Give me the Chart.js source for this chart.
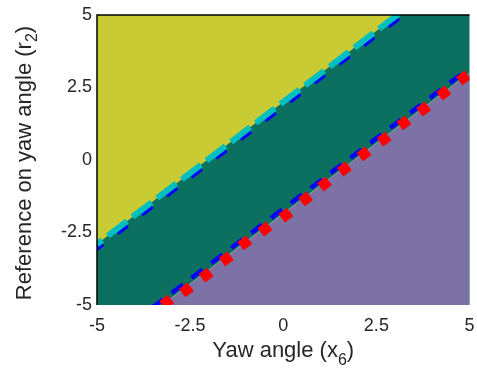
<!DOCTYPE html>
<html>
<head>
<meta charset="utf-8">
<script src="https://cdn.jsdelivr.net/npm/chart.js@4"></script>
<style>
  html, body { margin: 0; padding: 0; background: #fff; }
  #wrap { width: 477px; height: 371px; }
</style>
</head>
<body>
<div id="wrap"><canvas id="chart" width="477" height="371"></canvas></div>
<script>
// axis range and ticks
const xEnds = [-5, 5];
const tickValues = [-5, -2.5, 0, 2.5, 5];
const tickLabels = ['-5', '-2.5', '0', '2.5', '5'];

// boundary lines, y at x = -5 and x = 5
const upperBoundary = [-2.9, 6.9];   // yellow / teal edge (cyan dashed)
const upperBlue = [-3.07, 6.73];     // blue dashed just below it
const lowerBoundary = [-6.7, 3.0];   // teal / purple edge (red markers)
const lowerBlue = [-6.53, 3.17];     // blue dashed just above it

// red square markers on the lower boundary
const markerX = [-3.13, -2.6, -2.07, -1.53, -1.03, -0.49, 0.07, 0.6, 1.11, 1.64, 2.17, 2.71, 3.24, 3.77, 4.31, 4.84];
const markerY = [-4.9, -4.48, -3.97, -3.41, -2.86, -2.38, -1.9, -1.34, -0.83, -0.31, 0.21, 0.72, 1.28, 1.76, 2.31, 2.83];

const YELLOW = '#c9cb35';
const TEAL = '#0c7060';
const PURPLE = '#7d72a5';
const TEXT = '#262626';
const FONT = '"Liberation Sans", Arial, sans-serif';

const pts = (ys) => xEnds.map((x, i) => ({ x: x, y: ys[i] }));

// teal band = chart area background
const areaBg = {
  id: 'areaBg',
  beforeDatasetsDraw(chart) {
    const { ctx, chartArea: a } = chart;
    ctx.save();
    ctx.fillStyle = TEAL;
    ctx.fillRect(a.left, a.top, a.right - a.left, a.bottom - a.top);
    ctx.restore();
  }
};

function subText(ctx, pre, sub, post, cx, cy, rot, drop) {
  const big = '22px ' + FONT;
  const small = '16px ' + FONT;
  ctx.save();
  ctx.translate(cx, cy);
  ctx.rotate(rot);
  ctx.fillStyle = TEXT;
  ctx.textBaseline = 'alphabetic';
  ctx.textAlign = 'left';
  ctx.font = big;
  const w1 = ctx.measureText(pre).width;
  const w3 = ctx.measureText(post).width;
  ctx.font = small;
  const w2 = ctx.measureText(sub).width;
  let x = -(w1 + w2 + w3) / 2;
  ctx.font = big;
  ctx.fillText(pre, x, 0);
  x += w1;
  ctx.font = small;
  ctx.fillText(sub, x, drop);
  x += w2;
  ctx.font = big;
  ctx.fillText(post, x, 0);
  ctx.restore();
}

const frame = {
  id: 'frame',
  afterDraw(chart) {
    const { ctx, chartArea: a } = chart;
    ctx.save();
    ctx.strokeStyle = '#000';
    ctx.lineWidth = 1.5;
    ctx.beginPath();
    ctx.moveTo(a.left, a.bottom);
    ctx.lineTo(a.left, a.top);
    ctx.lineTo(a.right, a.top);
    ctx.stroke();
    ctx.restore();
    const midX = (a.left + a.right) / 2;
    const midY = (a.top + a.bottom) / 2 + 3;
    subText(ctx, 'Yaw angle (x', '6', ')', midX, 357, 0, 8);
    subText(ctx, 'Reference on yaw angle (r', '2', ')', 31, midY, -Math.PI / 2, 6);
  }
};

new Chart(document.getElementById('chart'), {
  type: 'line',
  data: {
    datasets: [
      {
        data: markerX.map((x, i) => ({ x: x, y: markerY[i] })),
        showLine: false,
        pointStyle: 'rect',
        pointRotation: -37,
        pointRadius: 7.5,
        pointBackgroundColor: '#ff0000',
        pointBorderWidth: 0,
        pointBorderColor: '#ff0000',
        clip: 0,
        order: 0
      },
      {
        data: pts(lowerBlue),
        borderColor: '#0000ff',
        borderWidth: 4.5,
        borderDash: [14, 10.9],
        borderDashOffset: 6,
        borderCapStyle: 'butt',
        pointRadius: 0,
        fill: false,
        clip: 0,
        order: 1
      },
      {
        data: pts(upperBoundary),
        borderColor: '#00bfbf',
        borderWidth: 6,
        borderDash: [24, 7],
        borderDashOffset: 17.3,
        borderCapStyle: 'butt',
        pointRadius: 0,
        fill: false,
        clip: 0,
        order: 2
      },
      {
        data: pts(upperBlue),
        borderColor: '#0000ff',
        borderWidth: 4,
        borderDash: [13, 18],
        borderDashOffset: 5.3,
        borderCapStyle: 'butt',
        pointRadius: 0,
        fill: false,
        clip: 0,
        order: 3
      },
      {
        data: pts(upperBoundary),
        borderWidth: 0,
        borderColor: 'rgba(0,0,0,0)',
        backgroundColor: YELLOW,
        pointRadius: 0,
        fill: 'end',
        clip: 0,
        order: 4
      },
      {
        data: pts(lowerBoundary),
        borderWidth: 1,
        borderColor: '#93a3a3',
        backgroundColor: PURPLE,
        pointRadius: 0,
        fill: 'start',
        clip: 0,
        order: 5
      }
    ]
  },
  options: {
    responsive: false,
    animation: false,
    devicePixelRatio: 1,
    layout: { padding: { left: 0, top: 15, right: 4, bottom: 0 } },
    plugins: {
      legend: { display: false },
      tooltip: { enabled: false },
      filler: { propagate: false }
    },
    scales: {
      x: {
        type: 'linear',
        min: -5,
        max: 5,
        afterFit: (s) => { s.height = 66; s.paddingLeft = 0; s.paddingRight = 0; },
        afterBuildTicks: (s) => { s.ticks = tickValues.map(v => ({ value: v })); },
        grid: { display: false, drawTicks: false },
        border: { display: false },
        ticks: {
          padding: 10,
          color: TEXT,
          font: { family: FONT, size: 18 },
          maxRotation: 0,
          callback: (v) => tickLabels[tickValues.indexOf(v)]
        }
      },
      y: {
        type: 'linear',
        min: -5,
        max: 5,
        afterFit: (s) => { s.width = 97; s.paddingTop = 0; s.paddingBottom = 0; },
        afterBuildTicks: (s) => { s.ticks = tickValues.map(v => ({ value: v })); },
        grid: { display: false, drawTicks: false },
        border: { display: false },
        ticks: {
          padding: 5,
          color: TEXT,
          font: { family: FONT, size: 18 },
          callback: (v) => tickLabels[tickValues.indexOf(v)]
        }
      }
    }
  },
  plugins: [areaBg, frame]
});
</script>
</body>
</html>
